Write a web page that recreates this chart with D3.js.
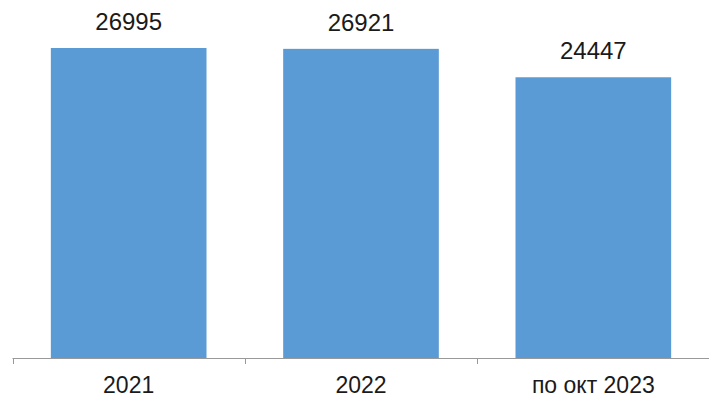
<!DOCTYPE html>
<html><head><meta charset="utf-8">
<script src="https://cdn.jsdelivr.net/npm/d3@7"></script>
<style>body{margin:0;background:#fff}svg{display:block}</style>
</head><body>
<svg id="c" width="709" height="398"></svg>
<script>
const categories = ["2021", "2022", "по окт 2023"];
const values = [26995, 26921, 24447];

const svg = d3.select("#c");
const x = d3.scaleBand().domain(categories).range([12.5, 709.5]).paddingInner(0.33).paddingOuter(0.165);
const y = d3.scaleLinear().domain([0, 26995]).range([358, 48]);

svg.selectAll("rect.bar").data(values).enter().append("rect")
  .attr("class", "bar")
  .attr("x", (d, i) => x(categories[i]))
  .attr("width", x.bandwidth())
  .attr("y", d => y(d))
  .attr("height", d => y(0) - y(d))
  .attr("fill", "#5B9BD5");

svg.selectAll("text.val").data(values).enter().append("text")
  .attr("class", "val")
  .attr("x", (d, i) => x(categories[i]) + x.bandwidth() / 2)
  .attr("y", d => y(d) - 18)
  .attr("text-anchor", "middle")
  .attr("font-family", "Liberation Sans, Arial, sans-serif")
  .attr("font-size", 24)
  .attr("fill", "#1a1a1a")
  .text(d => d);

// axis
const step = x.step();
const tickPos = d3.range(categories.length + 1).map(i => 12.5 + i * step);
const g = svg.append("g");
g.append("line").attr("x1", 12.5).attr("x2", 709).attr("y1", 358.5).attr("y2", 358.5)
  .attr("stroke", "#999").attr("stroke-width", 1);
g.selectAll("line.tick").data(tickPos).enter().append("line")
  .attr("class", "tick")
  .attr("x1", d => Math.round(d) + 0.5).attr("x2", d => Math.round(d) + 0.5)
  .attr("y1", 358).attr("y2", 364)
  .attr("stroke", "#999").attr("stroke-width", 1);
g.selectAll("text.cat").data(categories).enter().append("text")
  .attr("class", "cat")
  .attr("x", d => x(d) + x.bandwidth() / 2)
  .attr("y", 393)
  .attr("text-anchor", "middle")
  .attr("font-family", "Liberation Sans, Arial, sans-serif")
  .attr("font-size", 23)
  .attr("fill", "#1a1a1a")
  .text(d => d);
</script>
</body></html>
